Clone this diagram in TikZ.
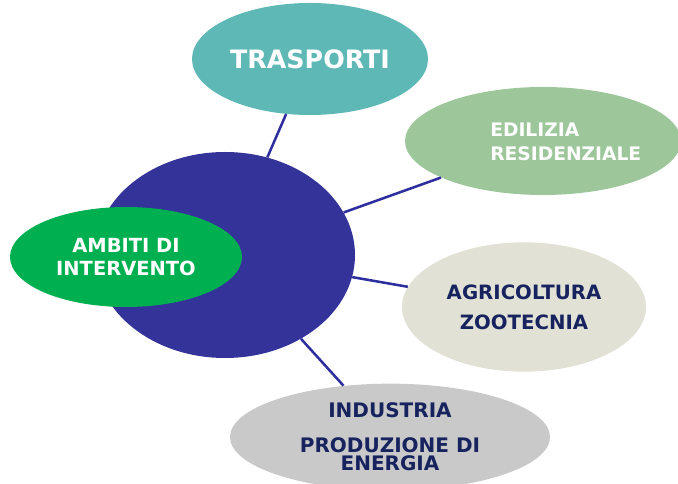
\documentclass[tikz,border=0pt]{standalone}
\usepackage{fontspec}
\setsansfont{DejaVu Sans}
\usepackage{tikz}
\usetikzlibrary{shapes.geometric}

\definecolor{hubblue}{HTML}{333399}
\definecolor{linkblue}{HTML}{2E2E9E}
\definecolor{ambitigreen}{HTML}{00AF50}
\definecolor{trasportiteal}{HTML}{5EB8B6}
\definecolor{ediliziagreen}{HTML}{9DC79B}
\definecolor{agribeige}{HTML}{E1E1D6}
\definecolor{industriagray}{HTML}{C9C9C9}
\definecolor{navytext}{HTML}{16235E}

\begin{document}
\begin{tikzpicture}[
    x=0.75pt, y=-0.75pt,
    sector/.style={ellipse, inner sep=0pt, align=center},
    sectortext/.style={inner sep=0pt, font=\sffamily\bfseries},
    link/.style={draw=linkblue, line width=1.9pt}
  ]
  \useasboundingbox (0,0) rectangle (678,484);

  \node[sector, fill=hubblue, minimum width=195pt, minimum height=154.5pt] (hub) at (225,255) {};
  \node[sector, fill=ambitigreen, text=white, minimum width=174pt, minimum height=75pt,
        font=\sffamily\bfseries\fontsize{14.6}{17}\selectfont] (ambiti) at (126,257) {AMBITI DI\\INTERVENTO};

  \node[sector, fill=trasportiteal, text=white, minimum width=177pt, minimum height=84pt,
        font=\sffamily\bfseries\fontsize{19}{21}\selectfont] (trasporti) at (310,59) {TRASPORTI};
  \node[sector, fill=ediliziagreen, minimum width=207pt, minimum height=81pt] (edilizia) at (543,141) {};
  \node[sectortext, anchor=west, align=left, text=white,
        font=\sffamily\bfseries\fontsize{14}{18.3}\selectfont] (ediliziatext) at (490,142) {EDILIZIA\\RESIDENZIALE};
  \node[sector, fill=agribeige, text=navytext, minimum width=183pt, minimum height=97pt,
        font=\sffamily\bfseries\fontsize{14.8}{22.5}\selectfont] (agricoltura) at (524,307) {AGRICOLTURA\\ZOOTECNIA};
  \node[sector, fill=industriagray, text=navytext, minimum width=240pt, minimum height=80pt,
        font=\sffamily\bfseries\fontsize{15}{13.75}\selectfont] (industria) at (390,437) {INDUSTRIA\\[12.5pt]PRODUZIONE DI\\ENERGIA};

  % raggi dal centro
  \draw[link] (hub) -- (trasporti);
  \draw[link] (hub) -- (edilizia);
  \draw[link] (hub) -- (agricoltura);
  \draw[link] (hub) -- (industria);

\end{tikzpicture}
\end{document}
